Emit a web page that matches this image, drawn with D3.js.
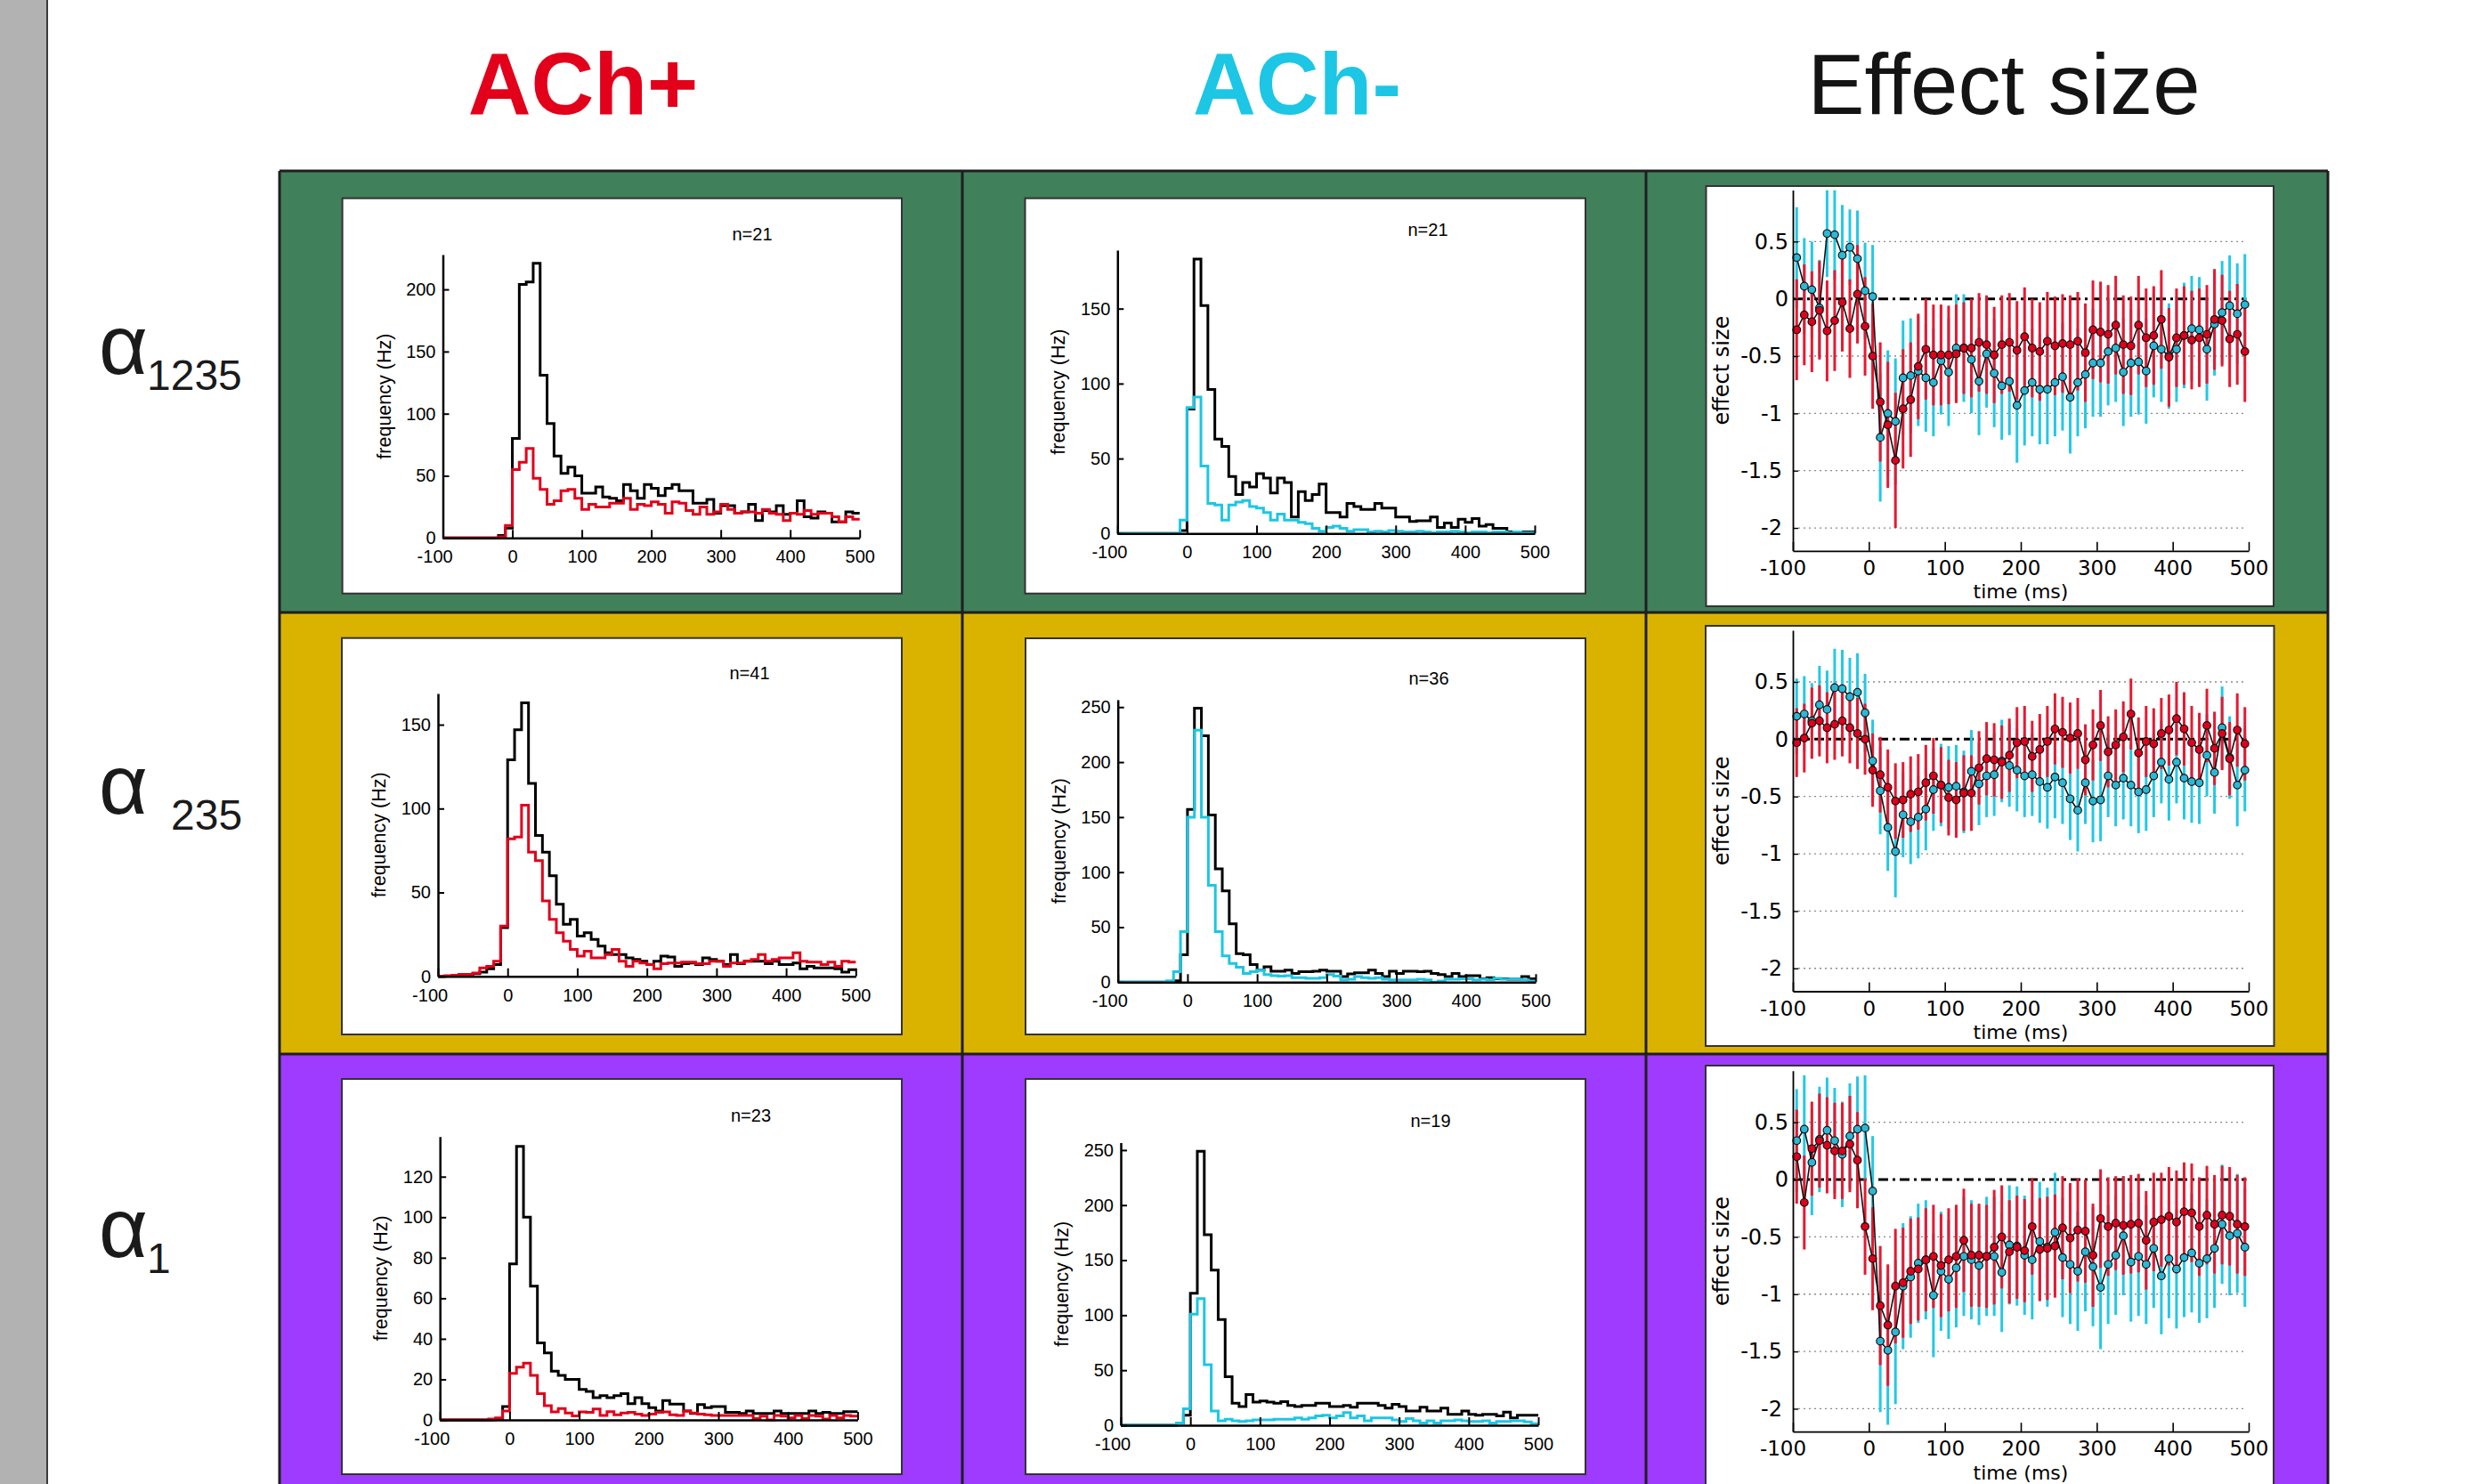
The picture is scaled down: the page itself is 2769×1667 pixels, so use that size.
<!DOCTYPE html>
<html><head><meta charset="utf-8">
<script src="https://cdn.jsdelivr.net/npm/d3@7"></script>
<style>
body{margin:0;background:#fff}
svg{display:block}
</style>
</head><body>
<svg id="c" width="2769" height="1667" font-family='"Liberation Sans", Arial, Helvetica, sans-serif'></svg>
<script>
// ---------------- DATA ----------------
const columnTitles = ["ACh+", "ACh-", "Effect size"];
const rowMain = ["α", "α", "α"];
const rowSub = ["1235", "235", "1"];
const nLabels = [["n=21", "n=21"], ["n=41", "n=36"], ["n=23", "n=19"]];

const binEdges = [-100,-90,-80,-70,-60,-50,-40,-30,-20,-10,0,10,20,30,40,50,60,70,80,90,100,110,120,130,140,150,160,170,180,190,200,210,220,230,240,250,260,270,280,290,300,310,320,330,340,350,360,370,380,390,400,410,420,430,440,450,460,470,480,490];
const effTimes = [-95,-85,-75,-65,-55,-45,-35,-25,-15,-5,5,15,25,35,45,55,65,75,85,95,105,115,125,135,145,155,165,175,185,195,205,215,225,235,245,255,265,275,285,295,305,315,325,335,345,355,365,375,385,395,405,415,425,435,445,455,465,475,485,495];
const histXTicks = [-100, 0, 100, 200, 300, 400, 500];
const effXTicks = [-100, 0, 100, 200, 300, 400, 500];
const effYTicks = [0.5, 0, -0.5, -1, -1.5, -2];
const histYTicks = [[[0,50,100,150,200],[0,50,100,150]],[[0,50,100,150],[0,50,100,150,200,250]],[[0,20,40,60,80,100,120],[0,50,100,150,200,250]]];

// alpha1235
const h1235PlusBlack = [0,0,0,0,0,0,0,0,2,8, 80,204,206,221,131,92,66,52,57,50, 36,36,41,33,32,30,43,38,32,43, 40,34,40,43,38,38,28,28,31,20, 26,26,20,21,27,14,22,21,26,19, 20,30,17,16,21,20,13,13,21,20];
const h1235PlusRed   = [0,0,0,0,0,0,0,0,1,10, 55,61,72,48,39,27,30,38,39,32, 23,27,25,25,28,28,32,23,27,26, 29,27,20,29,28,22,19,25,19,21, 27,23,20,21,21,20,23,20,19,14, 20,19,22,19,20,20,17,13,17,15];
const h1235MinusBlack= [0,0,0,0,0,0,0,0,0,2, 83,183,152,96,63,58,38,26,34,31, 40,37,27,37,34,11,28,22,26,33, 14,14,11,20,18,16,16,20,17,17, 11,11,8,8.5,8.5,11,4,7,4,9.5, 7.5,10,5,6,3.5,3.5,1,1,1,1];
const h1235MinusCyan = [0,0,0,0,0,0,0,0,0,9, 84,91,45,20,19,9,19,21,22,18, 17,14,9,13,9,9,7.5,6.5,3.5,1.5, 4,5,3.5,1.5,2.5,2.5,1,1.5,1,2, 1.5,1,1,1.5,1,0.5,1,1,1.5,1, 0.5,1,1,0.5,1,1,0.5,1,0.5,0.5];
// alpha235
const h235PlusBlack  = [0,0.3,0.3,1,1,1.5,2.5,4.5,7,29, 129,147,163,115,84,74,60,43,31,34, 24,26,22,18,14,13,13,11,10,9, 7,9,12,11.5,6,7.5,8,7,11,10, 9,7,13,7.5,9,9,9,7.5,9,7, 7,8,4.5,6,5,5,5,4.5,2.5,4];
const h235PlusRed    = [0,0.3,0.7,1,1,2,5,6,9,30, 82,83,102,74,69,45,34,26,21,16, 12,15,11,11,13,16,9,6,9,8, 7,4.5,7.5,8,8,8.5,8.5,7.5,7.5,9, 9,6,8,8,9,10,13,9,10,11, 11,14,9,8.5,8.5,7,8.5,6,9,8.5];
const h235MinusBlack = [0,0,0,0,0,0,0,0,1.3,25, 157,249,224,152,103,83,53,26,25,16, 11,14,10,10,11,8,9.5,9.5,10,11, 10,10,5,7.5,8.5,8.5,11,8,5,10, 8,10,10,9.5,10,8,7,5,8,5, 6,6,3,4,3,3,2.7,2.7,5,3];
const h235MinusCyan  = [0,0,0,0,0,0,0,1.3,9.5,46, 150,229,150,88,46,24,17,13.5,8,9.5, 11,7,6,5.5,6,4,4,3.5,3.5,4, 7,5.5,2,2.7,5,4,3.5,4,2.7,2, 2,2,2,2.7,2,0,1,2.7,2.7,3, 3,2,2.7,2,3.5,2.7,2.7,2.7,2,1];
// alpha1
const h1PlusBlack    = [0,0,0,0,0,0,0,0,0.7,6.6, 77,135,100,66,38,33,24,22,20,20, 15,14,11,12,11,12,13,8,11,8, 6,4.4,9.5,7.8,7.8,4.4,3.2,7.6,6,6.6, 6.6,3.7,3.7,3.2,4.4,3.2,3.2,3.2,4.4,3.2, 3.2,3.2,3.2,4.4,3.2,3.7,3.2,3.2,4.1,4.1];
const h1PlusRed      = [0,0,0,0,0,0,0,0.4,1,4.4, 23,26,28,22,13,7,4,5.6,3.4,2, 4,3.7,5.4,2.2,4.1,2.5,3.4,3.7,2.9,2.2, 2.9,3.7,4,2.5,2.2,4.4,3.4,2.9,2.5,2.2, 2.2,2.2,2.2,2.2,2.2,0.7,1.9,0,2.2,1.9, 1,2.2,0.7,2.2,1.9,0.4,2.2,1,2.2,1.9];
const h1MinusBlack   = [0,0,0,0,0,0,0,0,2,9, 120,249,173,141,96,44,20,17,28,21, 22,21,20,21.5,18,17,18,18,20,20, 17,17,18,16.4,20,20,20,18,15.6,19, 17,13,13,16.4,13,13,15.6,10,10,13, 10,9,10,10,8.4,12,6.7,9,9,9];
const h1MinusCyan    = [0,0,0,0,0,0,0,0,2,15, 101,115,55,13,4,5.4,4,3.5,4,4.8, 4.8,4.8,5.4,5.4,5.4,6.7,5.4,6.7,8.4,9, 6.7,8.4,11.6,6.7,8.4,4,6.7,6.7,6.7,4.8, 3.5,6,4,2,4,2,4,4,4.8,4, 3.5,3.5,4,2,3.5,3.5,4,4,3,1.5];

// effect sizes (red = ACh+, cyan = ACh-)
const eff1235Red  = [-0.27,-0.14,-0.20,-0.10,-0.28,-0.19,-0.03,-0.26,0.04,-0.24, -0.50,-0.90,-1.10,-1.41,-0.96,-0.88,-0.59,-0.44,-0.49,-0.49, -0.49,-0.48,-0.43,-0.43,-0.38,-0.40,-0.49,-0.40,-0.38,-0.45, -0.33,-0.43,-0.46,-0.37,-0.41,-0.39,-0.40,-0.37,-0.47,-0.27, -0.29,-0.31,-0.23,-0.40,-0.41,-0.23,-0.34,-0.32,-0.18,-0.51, -0.34,-0.32,-0.36,-0.34,-0.31,-0.18,-0.19,-0.35,-0.31,-0.46];
const eff1235RedErr = [0.44,0.44,0.44,0.43,0.44,0.44,0.43,0.43,0.43,0.43, 0.46,0.52,0.55,0.59,0.52,0.50,0.46,0.44,0.44,0.44, 0.43,0.43,0.40,0.43,0.43,0.43,0.42,0.43,0.43,0.43, 0.43,0.43,0.43,0.43,0.43,0.43,0.43,0.43,0.43,0.43, 0.44,0.43,0.43,0.43,0.43,0.43,0.43,0.43,0.43,0.43, 0.43,0.43,0.43,0.43,0.43,0.44,0.40,0.42,0.44,0.44];
const eff1235Cyan = [0.36,0.11,0.08,-0.08,0.57,0.56,0.38,0.45,0.35,0.07, 0.02,-1.21,-1.00,-1.07,-0.69,-0.67,-0.63,-0.69,-0.73,-0.54, -0.64,-0.43,-0.43,-0.53,-0.72,-0.48,-0.65,-0.76,-0.72,-0.93, -0.80,-0.73,-0.79,-0.79,-0.73,-0.68,-0.86,-0.73,-0.66,-0.56, -0.56,-0.46,-0.43,-0.64,-0.56,-0.55,-0.63,-0.41,-0.44,-0.50, -0.44,-0.32,-0.26,-0.27,-0.44,-0.22,-0.12,-0.06,-0.13,-0.05];
const eff1235CyanErr = [0.44,0.42,0.42,0.42,0.38,0.39,0.44,0.33,0.42,0.42, 0.45,0.56,0.55,0.55,0.50,0.50,0.48,0.47,0.47,0.47, 0.47,0.47,0.47,0.47,0.47,0.47,0.47,0.47,0.47,0.50, 0.48,0.47,0.48,0.48,0.47,0.47,0.49,0.47,0.47,0.47, 0.47,0.47,0.47,0.47,0.47,0.46,0.46,0.45,0.46,0.46, 0.46,0.46,0.46,0.46,0.45,0.45,0.45,0.44,0.44,0.44];
const eff235Red   = [-0.03,0.01,0.14,0.16,0.10,0.13,0.16,0.10,0.05,0.00, -0.27,-0.31,-0.42,-0.54,-0.53,-0.48,-0.46,-0.38,-0.32,-0.40, -0.51,-0.53,-0.47,-0.47,-0.25,-0.17,-0.18,-0.20,-0.14,-0.03, -0.02,-0.15,-0.09,-0.02,0.09,0.06,0.01,0.05,-0.18,-0.05, 0.12,-0.11,-0.05,0.02,0.22,-0.12,-0.02,-0.04,0.05,0.08, 0.18,0.09,-0.03,-0.09,0.12,-0.08,0.05,-0.17,0.08,-0.04];
const eff235RedErr = [0.30,0.30,0.31,0.31,0.31,0.31,0.31,0.31,0.31,0.31, 0.32,0.33,0.33,0.33,0.33,0.33,0.33,0.33,0.33,0.33, 0.33,0.33,0.33,0.33,0.32,0.32,0.32,0.32,0.32,0.31, 0.31,0.31,0.31,0.31,0.31,0.31,0.31,0.31,0.31,0.31, 0.31,0.31,0.31,0.31,0.31,0.31,0.31,0.31,0.31,0.31, 0.32,0.32,0.32,0.32,0.32,0.32,0.32,0.32,0.32,0.32];
const eff235Cyan  = [0.20,0.22,0.16,0.30,0.26,0.45,0.44,0.37,0.41,0.23, -0.19,-0.45,-0.77,-0.98,-0.66,-0.72,-0.68,-0.61,-0.44,-0.40, -0.42,-0.41,-0.46,-0.28,-0.39,-0.32,-0.31,-0.19,-0.23,-0.27, -0.32,-0.31,-0.37,-0.42,-0.33,-0.38,-0.52,-0.62,-0.38,-0.54, -0.53,-0.32,-0.40,-0.34,-0.40,-0.46,-0.44,-0.32,-0.20,-0.35, -0.20,-0.34,-0.37,-0.38,-0.14,-0.29,0.10,-0.16,-0.40,-0.27];
const eff235CyanErr = [0.33,0.33,0.33,0.34,0.34,0.34,0.34,0.34,0.34,0.34, 0.36,0.38,0.38,0.40,0.37,0.37,0.36,0.36,0.36,0.36, 0.36,0.36,0.36,0.36,0.36,0.36,0.36,0.36,0.36,0.36, 0.36,0.36,0.36,0.36,0.36,0.36,0.36,0.36,0.36,0.36, 0.36,0.36,0.36,0.36,0.36,0.36,0.36,0.36,0.36,0.36, 0.36,0.36,0.36,0.36,0.36,0.36,0.36,0.36,0.36,0.36];
const eff1Red     = [0.20,-0.20,0.27,0.34,0.30,0.25,0.25,0.31,0.17,-0.41, -0.69,-1.10,-1.27,-0.93,-0.90,-0.80,-0.78,-0.70,-0.67,-0.75, -0.70,-0.67,-0.53,-0.66,-0.66,-0.67,-0.59,-0.50,-0.63,-0.59, -0.62,-0.41,-0.61,-0.60,-0.58,-0.42,-0.51,-0.44,-0.45,-0.66, -0.34,-0.41,-0.38,-0.40,-0.39,-0.38,-0.53,-0.37,-0.35,-0.32, -0.37,-0.28,-0.29,-0.41,-0.31,-0.39,-0.31,-0.32,-0.39,-0.41];
const eff1RedErr = [0.41,0.41,0.41,0.41,0.42,0.42,0.42,0.42,0.42,0.42, 0.45,0.52,0.53,0.50,0.48,0.46,0.45,0.45,0.45,0.45, 0.45,0.45,0.45,0.45,0.45,0.45,0.50,0.45,0.45,0.45, 0.45,0.42,0.45,0.45,0.45,0.45,0.48,0.45,0.45,0.45, 0.43,0.43,0.41,0.43,0.43,0.43,0.43,0.43,0.41,0.43, 0.45,0.43,0.43,0.43,0.43,0.43,0.43,0.43,0.43,0.43];
const eff1Cyan    = [0.34,0.44,0.15,0.35,0.43,0.34,0.22,0.38,0.44,0.45, -0.10,-1.41,-1.49,-1.33,-0.93,-0.85,-0.73,-0.70,-1.01,-0.80, -0.87,-0.77,-0.67,-0.70,-0.75,-0.67,-0.67,-0.81,-0.57,-0.58, -0.66,-0.70,-0.54,-0.59,-0.46,-0.68,-0.74,-0.80,-0.63,-0.76, -0.94,-0.74,-0.66,-0.49,-0.72,-0.67,-0.74,-0.60,-0.84,-0.69, -0.78,-0.68,-0.64,-0.73,-0.69,-0.60,-0.39,-0.49,-0.47,-0.59];
const eff1CyanErr = [0.45,0.47,0.46,0.46,0.46,0.46,0.46,0.46,0.46,0.46, 0.48,0.62,0.65,0.63,0.55,0.53,0.52,0.52,0.54,0.52, 0.52,0.52,0.52,0.52,0.52,0.52,0.52,0.52,0.52,0.52, 0.52,0.52,0.52,0.52,0.52,0.52,0.52,0.52,0.52,0.52, 0.54,0.52,0.52,0.52,0.52,0.52,0.52,0.52,0.51,0.52, 0.52,0.52,0.52,0.52,0.52,0.52,0.52,0.52,0.52,0.52];

const histBlack = [[h1235PlusBlack, h1235MinusBlack],[h235PlusBlack, h235MinusBlack],[h1PlusBlack, h1MinusBlack]];
const histColored = [[h1235PlusRed, h1235MinusCyan],[h235PlusRed, h235MinusCyan],[h1PlusRed, h1MinusCyan]];
const effRed = [eff1235Red, eff235Red, eff1Red];
const effRedErr = [eff1235RedErr, eff235RedErr, eff1RedErr];
const effCyan = [eff1235Cyan, eff235Cyan, eff1Cyan];
const effCyanErr = [eff1235CyanErr, eff235CyanErr, eff1CyanErr];

// ---------------- LAYOUT ----------------
const W = 2769, H = 1667;
const colX = [314, 1081, 1849, 2615];
const rowY = [192, 688, 1184, 1700];
const rowColors = ["#40805a", "#d9b300", "#9e3bff"];
const RED = "#e2001a", CYAN = "#1cc6e4";
const FONT = '"Liberation Sans", Arial, Helvetica, sans-serif';
const EFONT = '"DejaVu Sans", Verdana, sans-serif';

const histLayout = [
  [{px:384.6,py:222.7,pw:628.4,ph:444, x0:497.5,x1:965.7,y0:604.3,yTop:286,yMax:228, nx:845,ny:270},
   {px:1151.5,py:222.7,pw:629.5,ph:444, x0:1255.3,x1:1724,y0:599.3,yTop:281,yMax:189, nx:1604,ny:265}],
  [{px:384,py:716.7,pw:629,ph:445.3, x0:492,x1:961.3,y0:1096.7,yTop:779,yMax:168.6, nx:842,ny:763},
   {px:1152,py:717,pw:629,ph:445, x0:1255.7,x1:1725,y0:1103.3,yTop:786,yMax:256.7, nx:1605,ny:769}],
  [{px:384,py:1212,pw:629,ph:444, x0:494.2,x1:963.4,y0:1595,yTop:1276.7,yMax:139.8, nx:843.5,ny:1260},
   {px:1152,py:1212,pw:629,ph:444, x0:1259,x1:1728,y0:1601,yTop:1283.5,yMax:256.8, nx:1607,ny:1266}]
];
const effLayout = [
  {px:1916.5,py:209,pw:637.5,ph:472, x0:2014,x1:2526,yTop:213.4,yBot:618.8},
  {px:1916,py:703,pw:638.5,ph:472, x0:2014,x1:2526,yTop:708.1,yBot:1113.5},
  {px:1916,py:1197,pw:638,ph:472, x0:2014,x1:2526,yTop:1202.8,yBot:1608.2}
];

// ---------------- DRAW ----------------
const svg = d3.select("#c");
svg.append("rect").attr("width", W).attr("height", H).attr("fill", "#fff");
svg.append("rect").attr("x", 0).attr("y", 0).attr("width", 52).attr("height", H).attr("fill", "#b1b2b1");
svg.append("line").attr("x1", 53).attr("x2", 53).attr("y1", 0).attr("y2", H).attr("stroke", "#3a3a3a").attr("stroke-width", 2);

// cells
for (let r = 0; r < 3; r++) for (let c = 0; c < 3; c++) {
  svg.append("rect").attr("x", colX[c]).attr("y", rowY[r])
    .attr("width", colX[c+1] - colX[c]).attr("height", rowY[r+1] - rowY[r]).attr("fill", rowColors[r]);
}
colX.forEach(x => svg.append("line").attr("x1", x).attr("x2", x).attr("y1", rowY[0]).attr("y2", H)
  .attr("stroke", "#1e1e1e").attr("stroke-width", 3));
rowY.slice(0, 3).forEach(y => svg.append("line").attr("x1", colX[0]).attr("x2", colX[3]).attr("y1", y).attr("y2", y)
  .attr("stroke", "#1e1e1e").attr("stroke-width", 3));

// column titles
const titleX = [655, 1457, 2251];
const titleStyle = [{fill: RED, w: "bold", s: 98}, {fill: CYAN, w: "bold", s: 98}, {fill: "#141414", w: "normal", s: 96}];
columnTitles.forEach((t, i) => {
  svg.append("text").attr("x", titleX[i]).attr("y", 128).attr("text-anchor", "middle").attr("font-family", FONT)
    .attr("font-size", titleStyle[i].s).attr("font-weight", titleStyle[i].w).attr("fill", titleStyle[i].fill).text(t);
});

// row labels
const rowLabelBase = [420, 914, 1412];
const subX = [165, 192, 165];
rowMain.forEach((m, r) => {
  svg.append("text").attr("x", 111).attr("y", rowLabelBase[r]).attr("font-size", 95).attr("font-family", FONT).attr("fill", "#1a1a1a").text(m);
  svg.append("text").attr("x", subX[r]).attr("y", rowLabelBase[r] + 18).attr("font-size", 48).attr("font-family", FONT).attr("fill", "#1a1a1a").text(rowSub[r]);
});

function styleAxis(g, size, family) {
  g.attr("font-size", size).attr("font-family", family);
  g.selectAll("path.domain").attr("stroke", "#000").attr("stroke-width", 2.5);
  g.selectAll(".tick line").attr("stroke", "#000").attr("stroke-width", 2);
  g.selectAll(".tick text").attr("fill", "#000");
}

function drawHist(L, black, colored, color, yTicks, nLabel) {
  const g = svg.append("g").attr("font-family", FONT);
  g.append("rect").attr("x", L.px).attr("y", L.py).attr("width", L.pw).attr("height", L.ph)
    .attr("fill", "#fff").attr("stroke", "#333").attr("stroke-width", 2);
  const x = d3.scaleLinear().domain([-100, 500]).range([L.x0, L.x1]);
  const y = d3.scaleLinear().domain([0, L.yMax]).range([L.y0, L.yTop]);
  const line = d3.line().x(d => x(d[0])).y(d => y(d[1])).curve(d3.curveStepAfter);
  const pts = v => binEdges.map((e, i) => [e, v[i]]).concat([[500, v[v.length - 1]]]);
  g.append("path").attr("d", line(pts(black))).attr("fill", "none").attr("stroke", "#000").attr("stroke-width", 3);
  g.append("path").attr("d", line(pts(colored))).attr("fill", "none").attr("stroke", color).attr("stroke-width", 3);
  const xa = g.append("g").attr("transform", `translate(0,${L.y0})`)
    .call(d3.axisBottom(x).tickValues(histXTicks).tickFormat(d => String(d)).tickSizeInner(-9).tickSizeOuter(0).tickPadding(14));
  styleAxis(xa, 20, FONT);
  xa.selectAll(".tick text").attr("dx", d => d < 0 ? "-0.47em" : 0);
  const ya = g.append("g").attr("transform", `translate(${L.x0},0)`)
    .call(d3.axisLeft(y).tickValues(yTicks).tickFormat(d => String(d)).tickSizeInner(-7).tickSizeOuter(0).tickPadding(8));
  styleAxis(ya, 20, FONT);
  g.append("text").attr("transform", `translate(${L.x0 - 66},${(L.y0 + L.yTop) / 2}) rotate(-90)`)
    .attr("text-anchor", "middle").attr("dominant-baseline", "central").attr("font-size", 21.5).attr("fill", "#000")
    .text("frequency (Hz)");
  g.append("text").attr("x", L.nx).attr("y", L.ny).attr("text-anchor", "middle").attr("font-size", 20).attr("fill", "#000").text(nLabel);
}

function drawEffect(L, idx, red, redErr, cyan, cyanErr) {
  const g = svg.append("g").attr("font-family", EFONT);
  g.append("rect").attr("x", L.px).attr("y", L.py).attr("width", L.pw).attr("height", L.ph)
    .attr("fill", "#fff").attr("stroke", "#333").attr("stroke-width", 2);
  const x = d3.scaleLinear().domain([-100, 500]).range([L.x0, L.x1]);
  const y = d3.scaleLinear().domain([-2.2, 0.95]).range([L.yBot, L.yTop]);
  const cid = "clipE" + idx;
  svg.append("clipPath").attr("id", cid).append("rect")
    .attr("x", L.x0 - 12).attr("y", L.yTop).attr("width", L.x1 - L.x0 + 24).attr("height", L.yBot - L.yTop);
  // grid
  g.selectAll("line.grid").data(effYTicks.filter(d => d !== 0)).enter().append("line")
    .attr("x1", L.x0).attr("x2", x(497)).attr("y1", d => y(d)).attr("y2", d => y(d))
    .attr("stroke", "#8a8a8a").attr("stroke-width", 1.3).attr("stroke-dasharray", "2,4");
  g.append("line").attr("x1", L.x0).attr("x2", x(497)).attr("y1", y(0)).attr("y2", y(0))
    .attr("stroke", "#000").attr("stroke-width", 3).attr("stroke-dasharray", "11,5,3,5");
  const pg = g.append("g").attr("clip-path", `url(#${cid})`);
  const bars = (vals, errs, col) => pg.append("g").selectAll("line").data(vals).enter().append("line")
    .attr("x1", (d, i) => x(effTimes[i])).attr("x2", (d, i) => x(effTimes[i]))
    .attr("y1", (d, i) => y(d - errs[i])).attr("y2", (d, i) => y(d + errs[i]))
    .attr("stroke", col).attr("stroke-width", 3);
  bars(cyan, cyanErr, "#22c8e6");
  bars(red, redErr, "#e8182f");
  const line = d3.line().x((d, i) => x(effTimes[i])).y(d => y(d));
  pg.append("path").attr("d", line(cyan)).attr("fill", "none").attr("stroke", "#111").attr("stroke-width", 1.6);
  pg.append("path").attr("d", line(red)).attr("fill", "none").attr("stroke", "#111").attr("stroke-width", 1.6);
  const dots = (vals, col) => pg.append("g").selectAll("circle").data(vals).enter().append("circle")
    .attr("cx", (d, i) => x(effTimes[i])).attr("cy", d => y(d)).attr("r", 4.3)
    .attr("fill", col).attr("stroke", "#111").attr("stroke-width", 1.2);
  dots(cyan, "#2bb8d6");
  dots(red, "#e0001b");
  const xa = g.append("g").attr("transform", `translate(0,${L.yBot})`)
    .call(d3.axisBottom(x).tickValues(effXTicks).tickFormat(d => String(d)).tickSizeInner(-10).tickSizeOuter(0).tickPadding(10.7));
  styleAxis(xa, 23, EFONT);
  xa.selectAll("path.domain").attr("stroke-width", 1.8);
  xa.selectAll(".tick line").attr("stroke-width", 1.6);
  xa.selectAll(".tick text").attr("dx", d => d < 0 ? "-0.5em" : 0);
  const ya = g.append("g").attr("transform", `translate(${L.x0},0)`)
    .call(d3.axisLeft(y).tickValues(effYTicks).tickFormat(d => String(d)).tickSizeInner(-6).tickSizeOuter(0).tickPadding(5));
  styleAxis(ya, 24, EFONT);
  ya.selectAll("path.domain").attr("stroke-width", 1.8);
  ya.selectAll(".tick line").attr("stroke-width", 1.4);
  ya.selectAll(".tick text").attr("dx", d => d < 0 ? -7 : 0);
  g.append("text").attr("transform", `translate(${L.x0 - 80},${(L.yTop + L.yBot) / 2}) rotate(-90)`)
    .attr("text-anchor", "middle").attr("dominant-baseline", "central").attr("font-size", 24)
    .attr("fill", "#000").text("effect size");
  g.append("text").attr("x", (L.x0 + L.x1) / 2).attr("y", L.yBot + 53.5).attr("text-anchor", "middle")
    .attr("font-size", 22).attr("fill", "#000").text("time (ms)");
}

for (let r = 0; r < 3; r++) {
  drawHist(histLayout[r][0], histBlack[r][0], histColored[r][0], RED, histYTicks[r][0], nLabels[r][0]);
  drawHist(histLayout[r][1], histBlack[r][1], histColored[r][1], CYAN, histYTicks[r][1], nLabels[r][1]);
  drawEffect(effLayout[r], r, effRed[r], effRedErr[r], effCyan[r], effCyanErr[r]);
}
</script>
</body></html>
